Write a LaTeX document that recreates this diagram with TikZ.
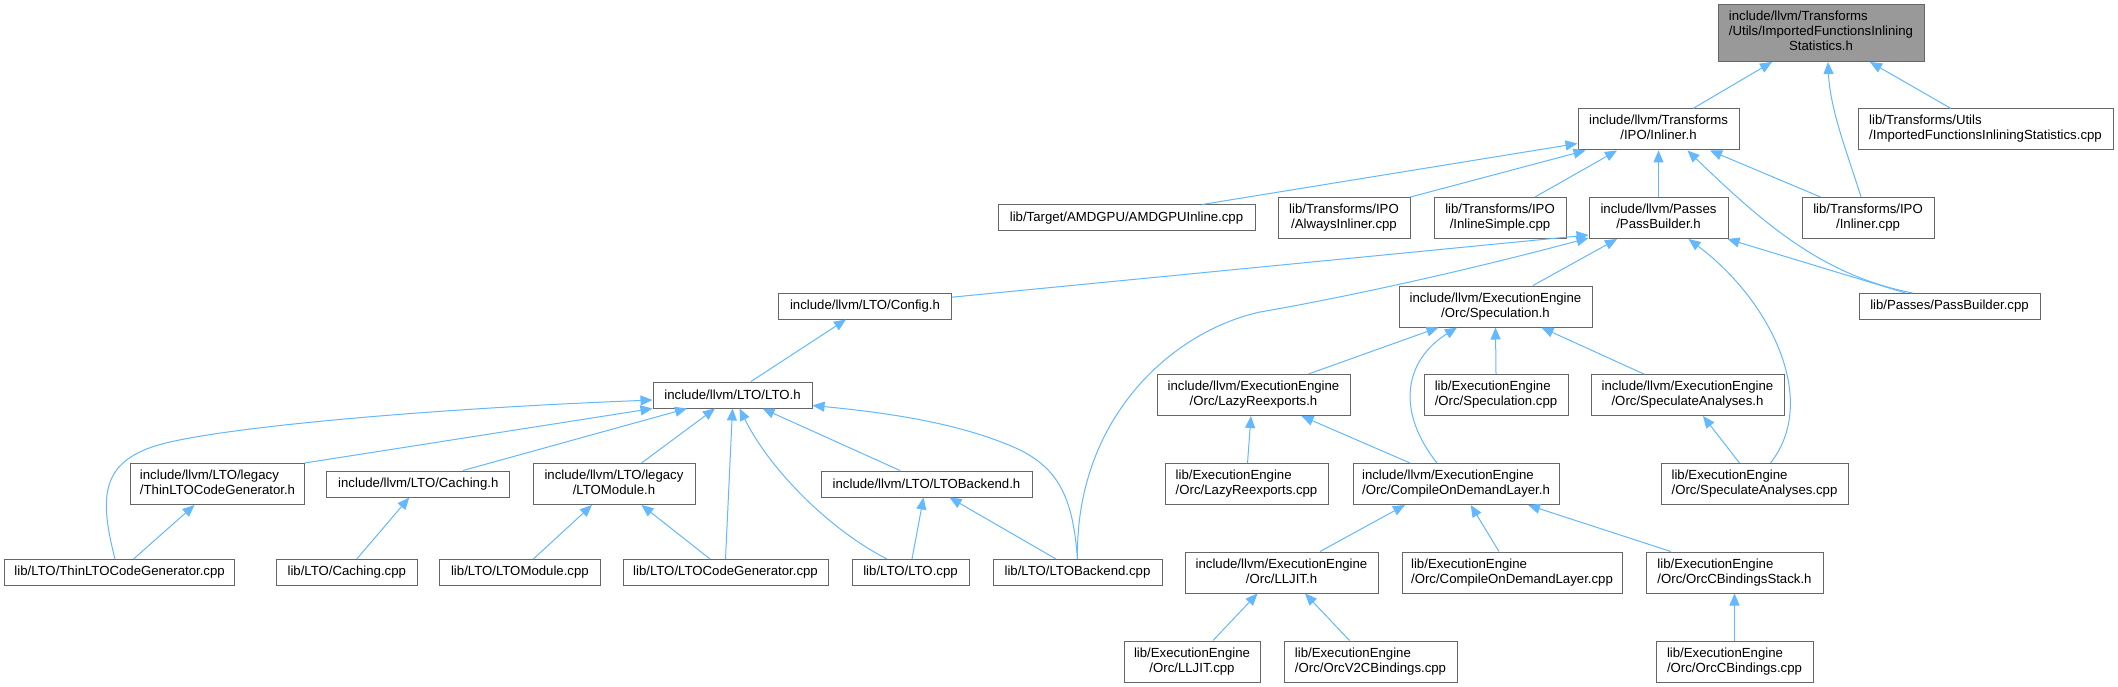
\documentclass[tikz,border=0pt]{standalone}
\usepackage{fontspec}
\setmainfont{Liberation Sans}
\usetikzlibrary{arrows.meta,calc}
\definecolor{edgeblue}{HTML}{63B8FF}
\definecolor{nodegray}{HTML}{666666}
\definecolor{rootfill}{HTML}{999999}
\newcommand{\dxtwo}[2]{\begin{tabular}{@{}l@{}}#1\\\multicolumn{1}{@{}c@{}}{#2}\end{tabular}}
\newcommand{\dxthree}[3]{\begin{tabular}{@{}l@{}}#1\\#2\\\multicolumn{1}{@{}c@{}}{#3}\end{tabular}}
\begin{document}
\begin{tikzpicture}[x=1pt,y=-1pt,
  font=\fontsize{13.2}{15}\selectfont,
  dxnode/.style={draw=nodegray, line width=1pt, fill=white, inner sep=0pt, anchor=center},
  dep/.style={draw=edgeblue, line width=1pt, -{Triangle[length=12pt,width=10pt]}}]
\fill[white] (0,0) rectangle (2118,687);
\useasboundingbox (0,0) rectangle (2118,687);
% nodes
\node[dxnode, fill=rootfill, minimum width=206pt, minimum height=57pt] (root) at (1821,33) {\dxthree{include/llvm/Transforms}{/Utils/ImportedFunctionsInlining}{Statistics.h}};
\node[dxnode, minimum width=161pt, minimum height=41pt] (inlh) at (1658.5,129.5) {\dxtwo{include/llvm/Transforms}{/IPO/Inliner.h}};
\node[dxnode, minimum width=255pt, minimum height=41pt] (ifiscpp) at (1985.5,129.5) {\dxtwo{lib/Transforms/Utils}{/ImportedFunctionsInliningStatistics.cpp}};
\node[dxnode, minimum width=257pt, minimum height=26pt] (amdgpu) at (1126.5,218) {lib/Target/AMDGPU/AMDGPUInline.cpp};
\node[dxnode, minimum width=132pt, minimum height=41pt] (always) at (1344,218) {\dxtwo{lib/Transforms/IPO}{/AlwaysInliner.cpp}};
\node[dxnode, minimum width=132pt, minimum height=41pt] (inlsimple) at (1500,218) {\dxtwo{lib/Transforms/IPO}{/InlineSimple.cpp}};
\node[dxnode, minimum width=139pt, minimum height=41pt] (pbh) at (1658.5,218) {\dxtwo{include/llvm/Passes}{/PassBuilder.h}};
\node[dxnode, minimum width=132pt, minimum height=41pt] (inlcpp) at (1868,218) {\dxtwo{lib/Transforms/IPO}{/Inliner.cpp}};
\node[dxnode, minimum width=172.5pt, minimum height=26pt] (config) at (865,306) {include/llvm/LTO/Config.h};
\node[dxnode, minimum width=193pt, minimum height=41pt] (spech) at (1495.5,306.5) {\dxtwo{include/llvm/ExecutionEngine}{/Orc/Speculation.h}};
\node[dxnode, minimum width=181pt, minimum height=26pt] (pbcpp) at (1949.5,306.5) {lib/Passes/PassBuilder.cpp};
\node[dxnode, minimum width=159pt, minimum height=26pt] (ltoh) at (732.5,395) {include/llvm/LTO/LTO.h};
\node[dxnode, minimum width=193pt, minimum height=41pt] (lazyh) at (1253.5,395) {\dxtwo{include/llvm/ExecutionEngine}{/Orc/LazyReexports.h}};
\node[dxnode, minimum width=144pt, minimum height=41pt] (speccpp) at (1496,395) {\dxtwo{lib/ExecutionEngine}{/Orc/Speculation.cpp}};
\node[dxnode, minimum width=193pt, minimum height=41pt] (specanh) at (1687.5,395) {\dxtwo{include/llvm/ExecutionEngine}{/Orc/SpeculateAnalyses.h}};
\node[dxnode, minimum width=173.4pt, minimum height=41pt] (thinh) at (217.5,484) {\dxtwo{include/llvm/LTO/legacy}{/ThinLTOCodeGenerator.h}};
\node[dxnode, minimum width=182.8pt, minimum height=26pt] (cachingh) at (418.3,484) {include/llvm/LTO/Caching.h};
\node[dxnode, minimum width=162pt, minimum height=41pt] (ltomodh) at (614,484) {\dxtwo{include/llvm/LTO/legacy}{/LTOModule.h}};
\node[dxnode, minimum width=211pt, minimum height=26pt] (ltobackh) at (926.5,484) {include/llvm/LTO/LTOBackend.h};
\node[dxnode, minimum width=163pt, minimum height=41pt] (lazycpp) at (1246.5,484) {\dxtwo{lib/ExecutionEngine}{/Orc/LazyReexports.cpp}};
\node[dxnode, minimum width=206pt, minimum height=41pt] (codh) at (1456,484) {\dxtwo{include/llvm/ExecutionEngine}{/Orc/CompileOnDemandLayer.h}};
\node[dxnode, minimum width=187pt, minimum height=41pt] (specancpp) at (1754.5,484) {\dxtwo{lib/ExecutionEngine}{/Orc/SpeculateAnalyses.cpp}};
\node[dxnode, minimum width=230pt, minimum height=26pt] (thincpp) at (119.6,572.5) {lib/LTO/ThinLTOCodeGenerator.cpp};
\node[dxnode, minimum width=140.6pt, minimum height=26pt] (cachingcpp) at (346.8,572.5) {lib/LTO/Caching.cpp};
\node[dxnode, minimum width=160.3pt, minimum height=26pt] (ltomodcpp) at (519.9,572.5) {lib/LTO/LTOModule.cpp};
\node[dxnode, minimum width=205pt, minimum height=26pt] (ltocgcpp) at (725.5,572.5) {lib/LTO/LTOCodeGenerator.cpp};
\node[dxnode, minimum width=117pt, minimum height=26pt] (ltocpp) at (910.5,572.5) {lib/LTO/LTO.cpp};
\node[dxnode, minimum width=169pt, minimum height=26pt] (ltobackcpp) at (1077.5,572.5) {lib/LTO/LTOBackend.cpp};
\node[dxnode, minimum width=193pt, minimum height=41pt] (lljith) at (1281.5,572.5) {\dxtwo{include/llvm/ExecutionEngine}{/Orc/LLJIT.h}};
\node[dxnode, minimum width=220pt, minimum height=41pt] (codcpp) at (1512,572.5) {\dxtwo{lib/ExecutionEngine}{/Orc/CompileOnDemandLayer.cpp}};
\node[dxnode, minimum width=177pt, minimum height=41pt] (orccbsh) at (1734.5,572.5) {\dxtwo{lib/ExecutionEngine}{/Orc/OrcCBindingsStack.h}};
\node[dxnode, minimum width=136pt, minimum height=41pt] (lljitcpp) at (1192,661.5) {\dxtwo{lib/ExecutionEngine}{/Orc/LLJIT.cpp}};
\node[dxnode, minimum width=173pt, minimum height=41pt] (orcv2cpp) at (1370.5,661.5) {\dxtwo{lib/ExecutionEngine}{/Orc/OrcV2CBindings.cpp}};
\node[dxnode, minimum width=157pt, minimum height=41pt] (orccbcpp) at (1734.5,661.5) {\dxtwo{lib/ExecutionEngine}{/Orc/OrcCBindings.cpp}};
% edges
\draw[dep] ($(inlh.north)+(34.5,0)$) -- ($(root.south)+(-49,0)$);
\draw[dep] ($(inlcpp.north)+(-7,0)$) .. controls (1848,155) and (1830,110) .. ($(root.south)+(7,0)$);
\draw[dep] ($(ifiscpp.north)+(-34.5,0)$) -- ($(root.south)+(49,0)$);
\draw[dep] ($(amdgpu.north)+(75.5,0)$) -- ($(inlh.west)+(0,14)$);
\draw[dep] (always.north east) -- ($(inlh.south west)+(8,0)$);
\draw[dep] ($(inlsimple.north)+(35,0)$) -- ($(inlh.south)+(-41.5,0)$);
\draw[dep] (pbh.north) -- (inlh.south);
\draw[dep] ($(inlcpp.north)+(-47.5,0)$) -- ($(inlh.south)+(51.5,0)$);
\draw[dep] ($(pbcpp.north)+(-37,0)$) .. controls (1820,275) and (1760,220) .. ($(inlh.south)+(29,0)$);
\draw[dep] ($(config.north east)+(0,4.7)$) -- ($(pbh.south west)+(0,-4)$);
\draw[dep] (ltobackcpp.north) .. controls (1075,420) and (1170,332) .. (1260,312) .. controls (1330,300) and (1450,275) .. ($(pbh.south west)+(0,-1)$);
\draw[dep] ($(spech.north)+(37.5,0)$) -- ($(pbh.south)+(-41.5,0)$);
\draw[dep] ($(pbcpp.north)+(-44,0)$) -- ($(pbh.south east)+(-1,0)$);
\draw[dep] ($(specancpp.north)+(16,0)$) .. controls (1820,400) and (1770,300) .. ($(pbh.south)+(30,0)$);
\draw[dep] ($(ltoh.north)+(18.5,0)$) -- ($(config.south)+(-19,0)$);
\draw[dep] ($(thincpp.north)+(-4.6,0)$) .. controls (100,500) and (100,465) .. (152,447) .. controls (200,430) and (400,410) .. ($(ltoh.west)+(0,5)$);
\draw[dep] (thinh.north east) -- (ltoh.south west);
\draw[dep] ($(cachingh.north)+(44.7,0)$) -- ($(ltoh.south)+(-45.5,0)$);
\draw[dep] ($(ltomodh.north)+(27.5,0)$) -- ($(ltoh.south)+(-17.5,0)$);
\draw[dep] (ltocgcpp.north) -- (ltoh.south);
\draw[dep] ($(ltocpp.north)+(-23.5,0)$) .. controls (830,530) and (770,470) .. ($(ltoh.south)+(7,0)$);
\draw[dep] ($(ltobackh.north)+(-26.5,0)$) -- ($(ltoh.south)+(30,0)$);
\draw[dep] (ltobackcpp.north) .. controls (1073,500) and (1060,470) .. (1020,450) .. controls (960,422) and (880,412) .. ($(ltoh.south east)+(0,-3)$);
\draw[dep] ($(thincpp.north)+(14,0)$) -- ($(thinh.south)+(-23,0)$);
\draw[dep] ($(cachingcpp.north)+(10,0)$) -- ($(cachingh.south)+(-9,0)$);
\draw[dep] ($(ltomodcpp.north)+(13.5,0)$) -- ($(ltomodh.south)+(-22,0)$);
\draw[dep] ($(ltocgcpp.north)+(-15.5,0)$) -- ($(ltomodh.south)+(27.5,0)$);
\draw[dep] ($(ltocpp.north)+(1.5,0)$) -- ($(ltobackh.south)+(-3,0)$);
\draw[dep] ($(ltobackcpp.north)+(-21.5,0)$) -- ($(ltobackh.south)+(23,0)$);
\draw[dep] ($(lazyh.north)+(55,0)$) -- ($(spech.south)+(-57,0)$);
\draw[dep] ($(codh.north)+(-19,0)$) .. controls (1395,410) and (1405,360) .. ($(spech.south)+(-38.5,0)$);
\draw[dep] (speccpp.north) -- (spech.south);
\draw[dep] ($(specanh.north)+(-43.7,0)$) -- ($(spech.south)+(46,0)$);
\draw[dep] ($(lazycpp.north)+(1,0)$) -- ($(lazyh.south)+(-2.5,0)$);
\draw[dep] ($(codh.north)+(-46,0)$) -- ($(lazyh.south)+(48,0)$);
\draw[dep] ($(specancpp.north)+(-15,0)$) -- ($(specanh.south)+(15.5,0)$);
\draw[dep] ($(lljith.north)+(38.5,0)$) -- ($(codh.south)+(-51,0)$);
\draw[dep] ($(codcpp.north)+(-13,0)$) -- ($(codh.south)+(14.7,0)$);
\draw[dep] ($(orccbsh.north)+(-63.7,0)$) -- ($(codh.south)+(72,0)$);
\draw[dep] ($(lljitcpp.north)+(21,0)$) -- ($(lljith.south)+(-24,0)$);
\draw[dep] ($(orcv2cpp.north)+(-21,0)$) -- ($(lljith.south)+(23.5,0)$);
\draw[dep] (orccbcpp.north) -- (orccbsh.south);
\end{tikzpicture}
\end{document}
